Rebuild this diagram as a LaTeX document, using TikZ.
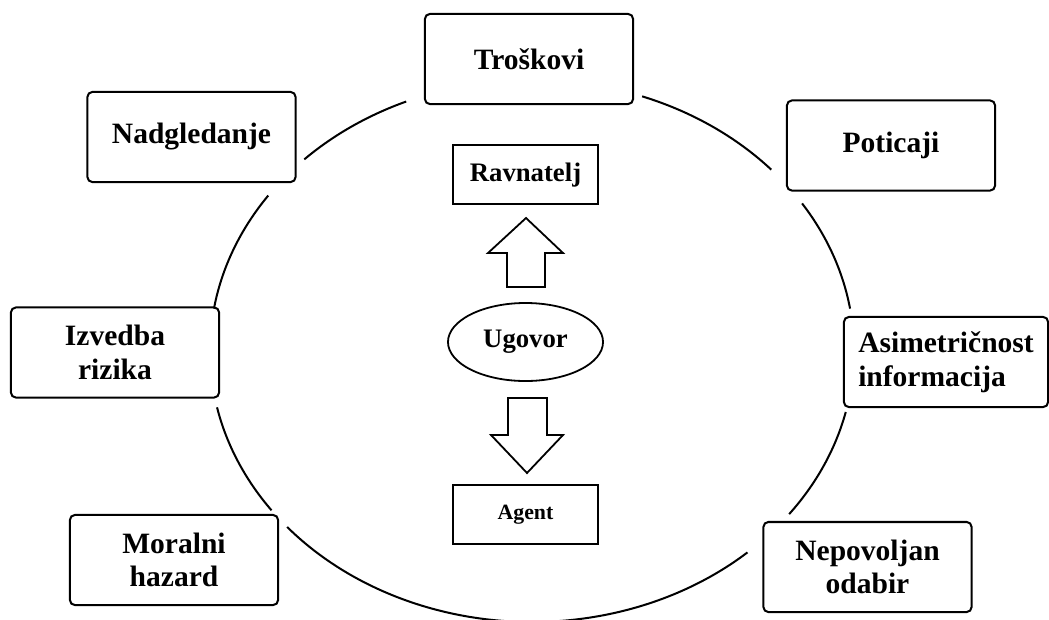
\documentclass[tikz,border=0pt]{standalone}
\usepackage{fontspec}
\setmainfont{Liberation Serif}
\usetikzlibrary{positioning}
\usetikzlibrary{shapes.geometric}
\tikzstyle{factor} = [draw, line width=0.05cm, rounded corners=0.12cm, minimum width=5.2cm, minimum height=2.25cm, inner sep=0pt, align=center, font=\fontsize{21}{24}\selectfont\bfseries]
\tikzstyle{party} = [draw, line width=0.05cm, minimum width=3.6cm, minimum height=1.47cm, inner sep=0pt]
\tikzstyle{ring} = [line width=0.05cm]
\tikzstyle{blockarrow} = [line width=0.045cm, line join=miter]

\begin{document}
\begin{tikzpicture}[x=0.025cm,y=-0.025cm]
	\useasboundingbox (0,0) rectangle (1049,619);
	
	%Outer nodes
	\node[factor] (troskovi) at (529,59) {Troškovi};
	\node[factor] (nadgledanje) at (191.5,137) {Nadgledanje};
	\node[factor] (poticaji) at (891,145.5) {Poticaji};
	\node[factor] (izvedba) at (115,352.5) {Izvedba\\rizika};
	\node[factor, minimum width=5.1cm, align=left] (asimetricnost) at (946,362) {Asimetričnost\\informacija};
	\node[factor] (moralni) at (174,560) {Moralni\\hazard};
	\node[factor] (nepovoljan) at (867.5,567) {Nepovoljan\\odabir};
	
	%Inner nodes
	\node[ellipse, draw, line width=0.045cm, minimum width=3.875cm, minimum height=1.95cm, inner sep=0pt, font=\fontsize{19}{22}\selectfont\bfseries] (ugovor) at (525.5,342) {Ugovor};
	\node[party, above=2.42cm of ugovor, font=\fontsize{19}{22}\selectfont\bfseries] (ravnatelj) {Ravnatelj};
	\node[party, below=2.55cm of ugovor, font=\fontsize{15.5}{18}\selectfont\bfseries] (agent) {Agent};
	
	%Arcs
	\foreach \a/\b in {225/247, 290/318, 327/351, 13/37, 48/139.5, 144/168, 189/215}
		\draw[ring] (532,351) ++(\a:322 and 271) arc[start angle=\a, end angle=\b, x radius=322, y radius=271];
	
	%Arrows
	\draw[blockarrow] (507,287) -- (507,253) -- (488,253) -- (526,218) -- (563,253) -- (545,253) -- (545,287) -- cycle;
	\draw[blockarrow] (508,398) -- (508,435) -- (491,435) -- (527,473) -- (563,435) -- (547,435) -- (547,398) -- cycle;
\end{tikzpicture}
\end{document}
